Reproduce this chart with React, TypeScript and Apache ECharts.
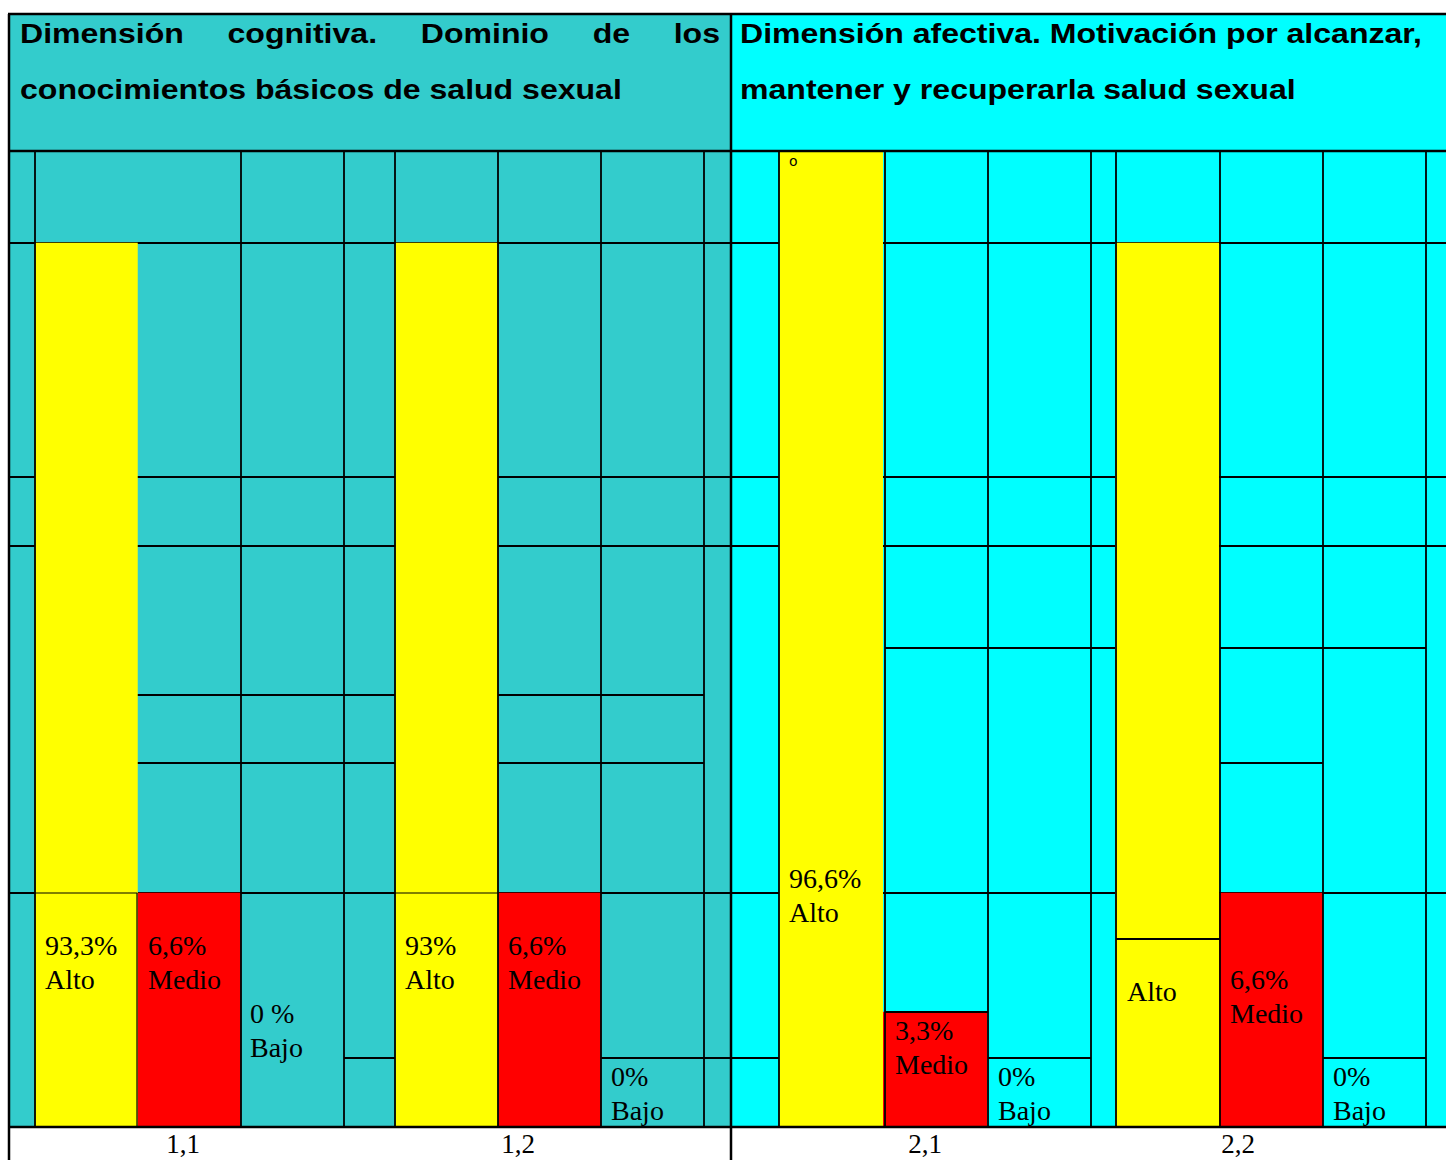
import React, { useEffect, useRef } from 'react';
import * as echarts from 'echarts';

// ---- data ----
const GROUPS = ['1,1', '1,2', '2,1', '2,2'];
const LEVELS = ['Alto', 'Medio', 'Bajo'];
// bar heights as drawn in the picture (share of the table body height, %)
const ALTO_HEIGHT = [90.6, 90.6, 100, 90.6];
const MEDIO_HEIGHT = [24.0, 24.0, 11.8, 24.0];
const BAJO_HEIGHT = [0, 0, 0, 0];
// percentages written in the cells
const ALTO_PCT = ['93,3%', '93%', '96,6%', ''];
const MEDIO_PCT = ['6,6%', '6,6%', '3,3%', '6,6%'];
const BAJO_PCT = ['0 %', '0%', '0%', '0%'];
const PANEL_TITLE_LINE1 = [
  'Dimensión cognitiva. Dominio de los',
  'Dimensión afectiva. Motivación por alcanzar,',
];
const PANEL_TITLE_LINE2 = [
  'conocimientos básicos de salud sexual',
  'mantener y recuperarla salud sexual',
];

// ---- layout (pixels) ----
const W = 1446;
const H = 1160;
const TOP = 14;
const HEAD_BOTTOM = 151;
const BODY_BOTTOM = 1127;
const LEFT = 9;
const DIVIDER = 731;
const COLORS = { left: '#33CCCC', right: '#00FFFF', alto: '#FFFF00', medio: '#FF0000' };
// label anchor [x, centre of first line] per group for Alto / Medio / Bajo
const LABEL_POS = [
  [[45, 945], [148, 945], [250, 1013]],
  [[405, 945], [508, 945], [611, 1076]],
  [[789, 878], [895, 1030], [998, 1076]],
  [[1127, 991], [1230, 979], [1333, 1076]],
];
const GROUP_LABEL_X = [183, 518, 925, 1238];

const SANS_BOLD = 'bold 28px "Liberation Sans", Arial, sans-serif';
const HEAD_SCALE_X = 1.145;
const SERIF = '28px "Liberation Serif", "Times New Roman", serif';
const SERIF_BOTTOM = '27px "Liberation Serif", "Times New Roman", serif';
const LINE_W = 1.8;

function measure(text: string, font: string): number {
  const c = document.createElement('canvas').getContext('2d')!;
  c.font = font;
  return c.measureText(text).width;
}

function headText(text: string, x: number, y: number) {
  return {
    type: 'text',
    x,
    y,
    z: 20,
    scaleX: HEAD_SCALE_X,
    style: { text, font: SANS_BOLD, fill: '#000', textVerticalAlign: 'middle' },
  };
}

function justified(line: string, x0: number, x1: number, y: number) {
  const words = line.split(' ');
  const widths = words.map((w) => measure(w, SANS_BOLD) * HEAD_SCALE_X);
  const total = widths.reduce((a, b) => a + b, 0);
  const gap = (x1 - x0 - total) / (words.length - 1);
  let x = x0;
  return words.map((w, i) => {
    const el = headText(w, x, y);
    x += widths[i] + gap;
    return el;
  });
}

function hLine(y: number, x1: number, x2: number, lw: number, z: number) {
  return { type: 'line', z, shape: { x1, y1: y, x2, y2: y }, style: { stroke: '#000', lineWidth: lw } };
}
function vLine(x: number, y1: number, y2: number, lw: number, z: number) {
  return { type: 'line', z, shape: { x1: x, y1, x2: x, y2 }, style: { stroke: '#000', lineWidth: lw } };
}

export default function App() {
  const ref = useRef<HTMLDivElement>(null);

  useEffect(() => {
    const chart = echarts.init(ref.current!, null, { renderer: 'svg' });

    const graphics: any[] = [];
    // backgrounds
    graphics.push({ type: 'rect', z: 0, shape: { x: LEFT, y: TOP, width: DIVIDER - LEFT, height: BODY_BOTTOM - TOP }, style: { fill: COLORS.left } });
    graphics.push({ type: 'rect', z: 0, shape: { x: DIVIDER, y: TOP, width: W - DIVIDER, height: BODY_BOTTOM - TOP }, style: { fill: COLORS.right } });

    // table lines behind bars
    const behind: [number, number, number][] = [
      [243, LEFT, W], [477, LEFT, W], [546, LEFT, W], [893, LEFT, W],
      [648, 885, 1116], [648, 1220, 1426],
      [695, 137, 395], [695, 498, 704],
      [763, 137, 395], [763, 498, 704], [763, 1220, 1323],
      [1058, 344, 395], [1058, 601, 779], [1058, 988, 1091], [1058, 1323, 1426],
    ];
    behind.forEach(([y, a, b]) => graphics.push(hLine(y, a, b, LINE_W, 1)));

    // table lines on top of bars
    [35, 241, 344, 395, 498, 601, 704, 779, 885, 988, 1091, 1116, 1220, 1323, 1426].forEach((x) =>
      graphics.push(vLine(x, HEAD_BOTTOM, BODY_BOTTOM, LINE_W, 10))
    );
    graphics.push(vLine(137, 893, BODY_BOTTOM, 1.2, 10));
    graphics.push(vLine(LEFT, TOP, H, 2.5, 10));
    graphics.push(vLine(DIVIDER, TOP, H, 2.5, 10));
    graphics.push(hLine(TOP, LEFT - 1, W, 2.5, 10));
    graphics.push(hLine(HEAD_BOTTOM, LEFT, W, 2.5, 10));
    graphics.push(hLine(BODY_BOTTOM, LEFT, W, 2.5, 10));
    graphics.push(hLine(893, 35, 137, 1, 10));
    graphics.push(hLine(893, 395, 498, 1, 10));
    graphics.push(hLine(939, 1116, 1220, LINE_W, 10));
    graphics.push(hLine(1012, 885, 988, LINE_W, 10));

    // headers
    graphics.push(...justified(PANEL_TITLE_LINE1[0], 20, 720, 33));
    graphics.push(...justified(PANEL_TITLE_LINE1[1], 740, 1422, 33));
    graphics.push(headText(PANEL_TITLE_LINE2[0], 20, 89));
    graphics.push(headText(PANEL_TITLE_LINE2[1], 740, 89));
    graphics.push({ type: 'text', x: 789, y: 161, z: 20, style: { text: 'o', font: '14px "DejaVu Sans", sans-serif', fill: '#000', textVerticalAlign: 'middle' } });

    // cell labels
    const pcts = [ALTO_PCT, MEDIO_PCT, BAJO_PCT];
    GROUPS.forEach((g, gi) => {
      LEVELS.forEach((lvl, li) => {
        const pct = pcts[li][gi];
        const [x, y] = LABEL_POS[gi][li];
        graphics.push({
          type: 'text', x, y: y - 17, z: 20,
          style: { text: pct ? `${pct}\n${lvl}` : lvl, font: SERIF, lineHeight: 34, fill: '#000', textVerticalAlign: 'top' },
        });
      });
      graphics.push({
        type: 'text', x: GROUP_LABEL_X[gi], y: 1144, z: 20,
        style: { text: g, font: SERIF_BOTTOM, lineHeight: 27, fill: '#000', textAlign: 'center', textVerticalAlign: 'middle' },
      });
    });

    const heights = [ALTO_HEIGHT, MEDIO_HEIGHT, BAJO_HEIGHT];
    const colors = [COLORS.alto, COLORS.medio, COLORS.left];
    const series: any[] = [];
    [0, 1].forEach((gridIdx) => {
      LEVELS.forEach((lvl, li) => {
        series.push({
          type: 'bar',
          name: lvl,
          xAxisIndex: gridIdx,
          yAxisIndex: gridIdx,
          data: heights[li].slice(gridIdx * 2, gridIdx * 2 + 2),
          barWidth: gridIdx === 0 ? 103 : 104,
          barGap: '0%',
          z: 2,
          itemStyle: { color: colors[li] },
          label: { show: false },
        });
      });
    });

    chart.setOption({
      animation: false,
      backgroundColor: '#fff',
      grid: [
        { left: LEFT, right: W - 730, top: HEAD_BOTTOM, bottom: H - BODY_BOTTOM },
        { left: 767, right: 7, top: HEAD_BOTTOM, bottom: H - BODY_BOTTOM },
      ],
      xAxis: [
        { type: 'category', gridIndex: 0, data: GROUPS.slice(0, 2), show: false },
        { type: 'category', gridIndex: 1, data: GROUPS.slice(2, 4), show: false },
      ],
      yAxis: [
        { type: 'value', gridIndex: 0, min: 0, max: 100, show: false },
        { type: 'value', gridIndex: 1, min: 0, max: 100, show: false },
      ],
      series,
      graphic: { elements: graphics },
    });

    return () => chart.dispose();
  }, []);

  return (
    <div
      ref={ref}
      style={{ position: 'absolute', left: 0, top: 0, width: W, height: H, background: '#fff' }}
    />
  );
}
